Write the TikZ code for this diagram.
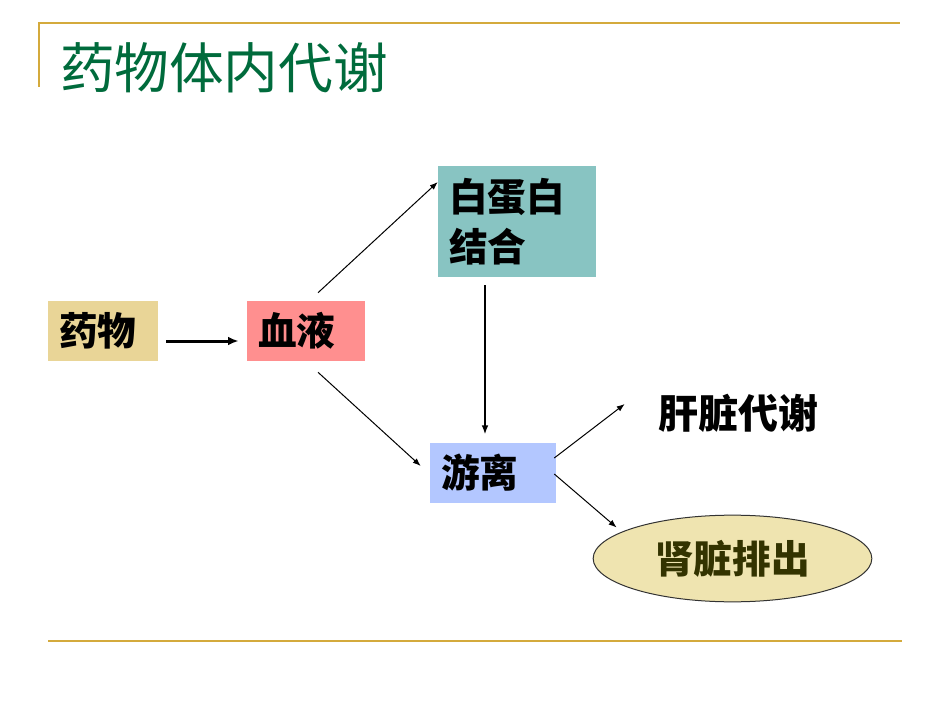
\documentclass[tikz,border=0pt]{standalone}
\usepackage{fontspec}
\newfontfamily\cjk{Noto Sans CJK SC}
\usetikzlibrary{shapes.geometric, arrows.meta, positioning}
\definecolor{rulegold}{HTML}{D4AA3C}
\definecolor{titlegreen}{HTML}{006B3C}
\definecolor{drugfill}{HTML}{E9D597}
\definecolor{bloodfill}{HTML}{FF8F8F}
\definecolor{albfill}{HTML}{88C4C2}
\definecolor{freefill}{HTML}{B3C7FF}
\definecolor{kidneyfill}{HTML}{EFE4B0}
\definecolor{kidneytext}{HTML}{333300}
\begin{document}
\begin{tikzpicture}[x=0.75pt, y=-0.75pt, >={Latex[length=6pt,width=4.5pt]},
  stage/.style={rectangle, inner xsep=8.25pt, inner ysep=0pt, align=left,
    font=\cjk\bfseries\fontsize{29}{37.5}\selectfont},
  link/.style={->, line width=0.75pt}]
\useasboundingbox (0,0) rectangle (950,713);
\draw[rulegold, line width=1.5pt] (38,23) -- (900,23);
\draw[rulegold, line width=1pt] (39,23) -- (39,87);
\draw[rulegold, line width=1.5pt] (48,641) -- (902,641);
\node[text=titlegreen, font=\cjk\fontsize{41}{49}\selectfont] (title) at (224,68) {药物体内代谢};

\node[stage, fill=drugfill, text width=66pt, minimum height=45pt] (drug) at (103,331) {药物};
\node[stage, fill=bloodfill, text width=72pt, minimum height=45pt] (blood) at (306,331) {血液};
\node[stage, fill=albfill, text width=102pt, minimum height=83.25pt] (alb) at (517,221.5) {白蛋白\\结合};
\node[stage, fill=freefill, text width=78pt, minimum height=45pt] (free) at (493,473) {游离};
\node[inner sep=0pt, font=\cjk\bfseries\fontsize{30}{36}\selectfont] (liver) at (738,413) {肝脏代谢};
\node[ellipse, draw=black!80, line width=0.75pt, fill=kidneyfill, minimum width=209pt, minimum height=65pt,
  inner sep=0pt, text=kidneytext, font=\cjk\bfseries\fontsize{29}{35}\selectfont] (kidney) at (732.5,558.5) {肾脏排出};

\draw[->, line width=2.25pt, >={Latex[length=8pt,width=6.5pt]}, shorten <=6pt, shorten >=6pt]
  ([yshift=-7.5pt]drug.east) -- ([yshift=-7.5pt]blood.west);
\draw[link] ([xshift=9pt, yshift=6pt]blood.north) -- ([yshift=29.6pt]alb.west);
\draw[link] ([xshift=9pt, yshift=-8.25pt]blood.south) -- ([xshift=-6.75pt, yshift=5.25pt]free.west);
\draw[->, line width=1.5pt, >={Latex[length=7pt,width=5pt]}]
  ([xshift=-24pt, yshift=-6pt]alb.south) -- ([xshift=-6pt, yshift=6pt]free.north);
\draw[link] ([xshift=-1.5pt, yshift=11.25pt]free.east) -- ([xshift=-24.75pt, yshift=6.75pt]liver.west);
\draw[link] ([xshift=-1.5pt, yshift=-0.75pt]free.east) -- ([xshift=-12.75pt]kidney.north west);
\end{tikzpicture}
\end{document}
